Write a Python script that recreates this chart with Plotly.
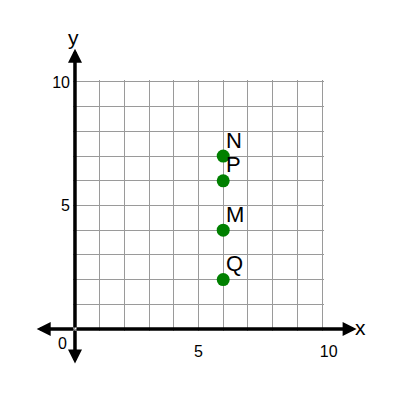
#Coordinate grid with labelled points
import plotly.graph_objs as go

point_names = ["N", "P", "M", "Q"]
point_x = [6, 6, 6, 6]
point_y = [7, 6, 4, 2]

grid_vals = list(range(0, 11))
x_tick_text = ["", "", "", "", "", "5", "", "", "", "", "\u00a0\u00a0\u00a010"]
y_tick_text = ["", "", "", "", "", "5", "", "", "", "", "10"]

font = "Liberation Sans, Arial, sans-serif"

points = go.Scatter(x=point_x, y=point_y,
                    mode="markers",
                    marker=dict(size=13, color="green"),
                    cliponaxis=False,
                    showlegend=False)

#labels in their own trace with a tiny invisible marker so they sit close
names = go.Scatter(x=point_x, y=point_y,
                   mode="markers+text",
                   text=point_names,
                   textposition="top right",
                   textfont=dict(family=font, size=22, color="black"),
                   marker=dict(size=3, opacity=0),
                   cliponaxis=False,
                   showlegend=False)

#range padded a bit so the grid lines at 10 are not dropped at the edge
axis_style = dict(range=[-0.08, 10.08],
                  tickmode="array",
                  tickvals=grid_vals,
                  showgrid=True,
                  gridcolor="#9a9a9a",
                  gridwidth=1,
                  zeroline=False,
                  showline=False,
                  ticks="",
                  tickfont=dict(family=font, size=16, color="black"),
                  fixedrange=True)

layout = go.Layout(width=400, height=400,
                   margin=dict(l=65, r=84, t=72, b=77),
                   paper_bgcolor="white",
                   plot_bgcolor="white",
                   xaxis=dict(axis_style, ticktext=x_tick_text, ticklabelstandoff=9),
                   yaxis=dict(axis_style, ticktext=y_tick_text, ticklabelstandoff=2),
                   showlegend=False)

fig = go.Figure(data=[points, names], layout=layout)

#axes: one arrow from the origin out to each end
arrow = dict(xref="x", yref="y", axref="x", ayref="y", text="",
             showarrow=True, arrowhead=2, arrowsize=0.8,
             arrowwidth=3.5, arrowcolor="black", standoff=0)
for tip_x, tip_y in [(11.4, 0), (-1.55, 0), (0, 11.35), (0, -1.4)]:
    fig.add_annotation(arrow, x=tip_x, y=tip_y, ax=0, ay=0)

#axis names and origin label, anchored inside the range and shifted in px
label_font = dict(family=font, size=21, color="black")
fig.add_annotation(x=10, y=0, text="x", showarrow=False, font=label_font,
                   xshift=38, yshift=2)
fig.add_annotation(x=0, y=10, text="y", showarrow=False, font=label_font,
                   xshift=-1, yshift=44)
fig.add_annotation(x=0, y=0, text="0", showarrow=False,
                   font=dict(family=font, size=16, color="black"),
                   xshift=-12, yshift=-14)

fig.write_html("out.html")
